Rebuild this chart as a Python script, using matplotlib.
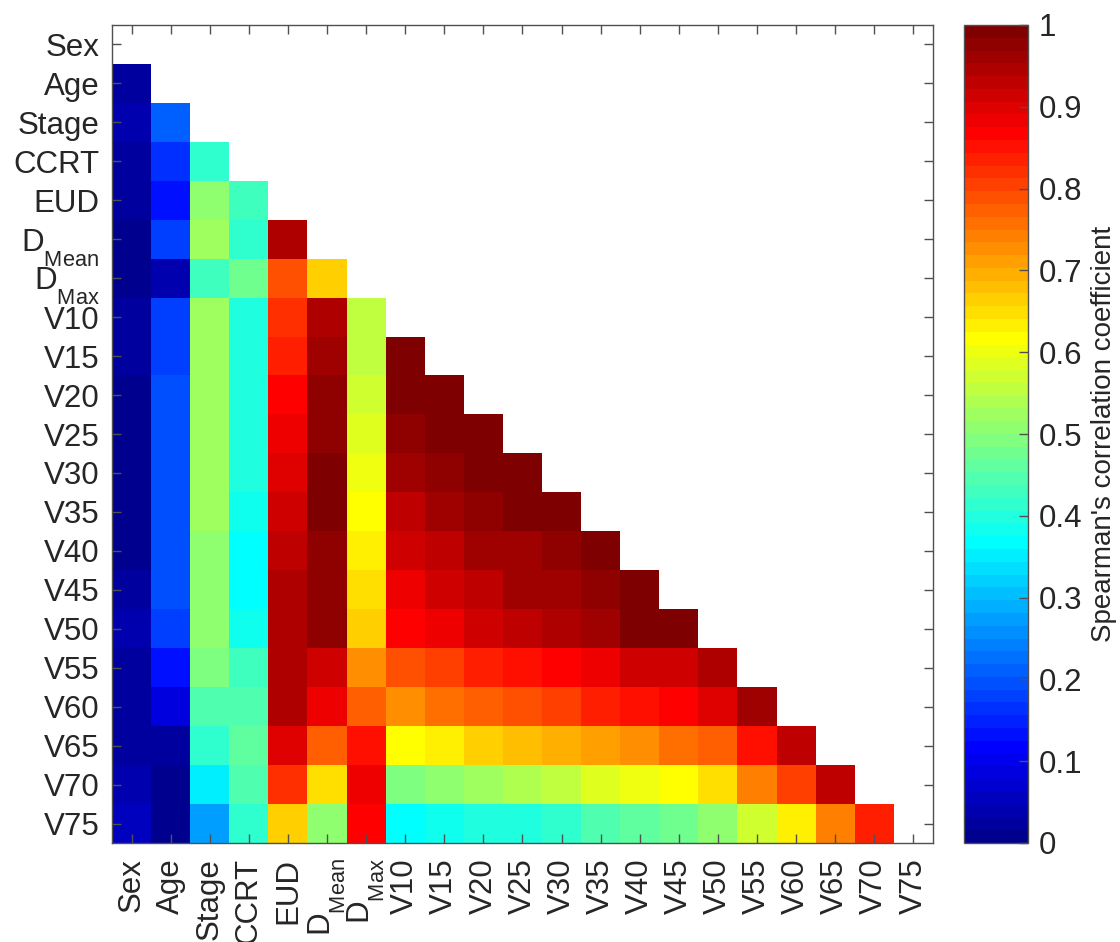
import numpy as np
import matplotlib
matplotlib.use("Agg")
import matplotlib.pyplot as plt
from matplotlib.colors import ListedColormap
from matplotlib import _mathtext

plt.rcParams['font.family'] = ['Liberation Sans', 'DejaVu Sans']
plt.rcParams['mathtext.fontset'] = 'custom'
plt.rcParams['mathtext.rm'] = 'Liberation Sans'
plt.rcParams['mathtext.it'] = 'Liberation Sans:italic'
plt.rcParams['mathtext.bf'] = 'Liberation Sans:bold'
# subindices mas abajo, como en matlab
_mathtext.FontConstantsBase.sub1 = 0.9
_mathtext.FontConstantsBase.sub2 = 1.0

# etiquetas de las variables
etiquetas = ['Sex', 'Age', 'Stage', 'CCRT', 'EUD', r'$\mathrm{D_{Mean}}$', r'$\mathrm{D_{Max}}$',
             'V10', 'V15', 'V20', 'V25', 'V30', 'V35', 'V40', 'V45', 'V50',
             'V55', 'V60', 'V65', 'V70', 'V75']

# triangulo inferior, fila por fila (columnas Sex, Age, ...)
fila_sex = []
fila_age = [0.02]
fila_stage = [0.04, 0.21]
fila_ccrt = [0.02, 0.16, 0.41]
fila_eud = [0.02, 0.13, 0.51, 0.43]
fila_dmean = [0.01, 0.18, 0.52, 0.41, 0.945]
fila_dmax = [0.01, 0.04, 0.43, 0.48, 0.79, 0.664]
fila_v10 = [0.02, 0.18, 0.52, 0.40, 0.82, 0.945, 0.555]
fila_v15 = [0.02, 0.18, 0.52, 0.40, 0.835, 0.96, 0.555, 1.0]
fila_v20 = [0.01, 0.195, 0.52, 0.40, 0.867, 0.977, 0.57, 1.0, 1.0]
fila_v25 = [0.01, 0.195, 0.52, 0.40, 0.883, 0.977, 0.586, 0.977, 1.0, 1.0]
fila_v30 = [0.01, 0.195, 0.52, 0.40, 0.898, 1.0, 0.60, 0.96, 0.977, 1.0, 1.0]
fila_v35 = [0.01, 0.195, 0.52, 0.383, 0.914, 1.0, 0.617, 0.93, 0.96, 0.977, 1.0, 1.0]
fila_v40 = [0.01, 0.195, 0.51, 0.367, 0.93, 0.977, 0.633, 0.914, 0.93, 0.96, 0.96, 0.977, 1.0]
fila_v45 = [0.02, 0.195, 0.51, 0.367, 0.945, 0.977, 0.648, 0.883, 0.914, 0.93, 0.96, 0.96, 0.977, 1.0]
fila_v50 = [0.04, 0.18, 0.51, 0.383, 0.945, 0.977, 0.664, 0.867, 0.883, 0.914, 0.93, 0.945, 0.96, 1.0, 1.0]
fila_v55 = [0.02, 0.13, 0.49, 0.43, 0.945, 0.914, 0.727, 0.79, 0.805, 0.835, 0.852, 0.867, 0.883,
            0.914, 0.914, 0.945]
fila_v60 = [0.02, 0.086, 0.445, 0.445, 0.945, 0.883, 0.773, 0.727, 0.758, 0.773, 0.79, 0.805, 0.835,
            0.852, 0.867, 0.898, 0.96]
fila_v65 = [0.02, 0.02, 0.41, 0.46, 0.898, 0.773, 0.852, 0.617, 0.64, 0.664, 0.68, 0.695, 0.711,
            0.727, 0.758, 0.773, 0.852, 0.93]
fila_v70 = [0.04, 0.01, 0.352, 0.445, 0.82, 0.648, 0.883, 0.49, 0.51, 0.52, 0.54, 0.555, 0.586,
            0.60, 0.617, 0.648, 0.742, 0.805, 0.93]
fila_v75 = [0.055, 0.01, 0.273, 0.41, 0.664, 0.51, 0.867, 0.367, 0.383, 0.40, 0.40, 0.41, 0.445,
            0.46, 0.48, 0.51, 0.57, 0.64, 0.742, 0.835]

filas = [fila_sex, fila_age, fila_stage, fila_ccrt, fila_eud, fila_dmean, fila_dmax,
         fila_v10, fila_v15, fila_v20, fila_v25, fila_v30, fila_v35, fila_v40, fila_v45,
         fila_v50, fila_v55, fila_v60, fila_v65, fila_v70, fila_v75]

n = len(etiquetas)
matriz = np.full((n, n), np.nan)
for i, f in enumerate(filas):
    matriz[i, :len(f)] = f
matriz = np.ma.masked_invalid(matriz)

# jet(64) como en matlab
def jet_matlab(m=64):
    q = m // 4
    u = np.concatenate([np.arange(1, q + 1) / q, np.ones(q - 1), np.arange(q, 0, -1) / q])
    g = int(np.ceil(q / 2)) - (1 if m % 4 == 1 else 0) + np.arange(1, len(u) + 1)
    r = g + q
    b = g - q
    J = np.zeros((m, 3))
    J[r[r <= m] - 1, 0] = u[r <= m]
    J[g[g <= m] - 1, 1] = u[g <= m]
    J[b[b >= 1] - 1, 2] = u[b >= 1]
    return J

cmap = ListedColormap(jet_matlab(64))
cmap.set_bad('white')

gris = '#262626'
borde = '#505050'

fig = plt.figure(figsize=(11.2, 9.42), dpi=100)
ax = fig.add_axes([112 / 1120, 1 - 843 / 942, 821 / 1120, 818 / 942])
im = ax.imshow(matriz, cmap=cmap, vmin=0, vmax=1, aspect='auto', interpolation='nearest')

ax.set_xticks(range(n))
ax.set_yticks(range(n))
ax.set_xticklabels(etiquetas, rotation=90)
ax.set_yticklabels(etiquetas)
ax.tick_params(direction='in', length=6.5, width=1, color=borde, labelsize=22.5,
               labelcolor=gris, top=True, right=True)
ax.tick_params(axis='y', pad=9)
ax.tick_params(axis='x', pad=11)
for s in ax.spines.values():
    s.set_color(borde)
    s.set_linewidth(1)

cax = fig.add_axes([964 / 1120, 1 - 843 / 942, 64 / 1120, 818 / 942])
cb = fig.colorbar(im, cax=cax)
cb.set_ticks(np.arange(0, 1.01, 0.1))
cb.set_ticklabels(['0', '0.1', '0.2', '0.3', '0.4', '0.5', '0.6', '0.7', '0.8', '0.9', '1'])
cb.ax.tick_params(direction='in', length=6.5, width=1, color=borde, labelsize=22.5,
                  labelcolor=gris, pad=8)
cb.outline.set_edgecolor(borde)
cb.outline.set_linewidth(1)
cb.set_label("Spearman's correlation coefficient", fontsize=20, color=gris, labelpad=6)

fig.savefig('out.png', dpi=100)
